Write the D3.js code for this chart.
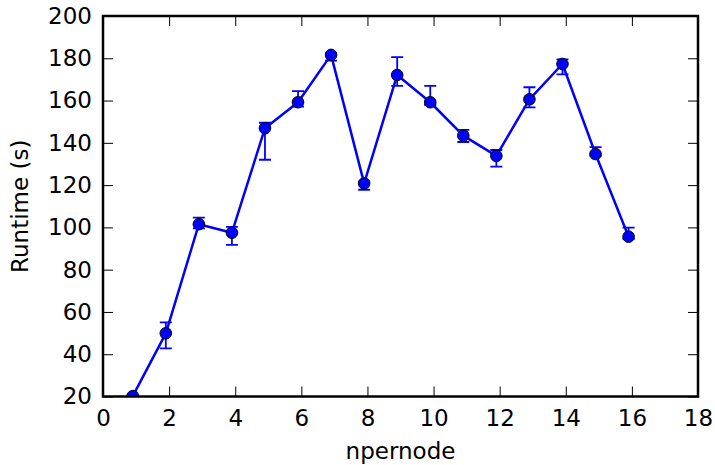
<!DOCTYPE html>
<html>
<head>
<meta charset="utf-8">
<style>
  body { margin: 0; background: #fff; }
  text { font-family: "DejaVu Sans", sans-serif; }
</style>
<title>Runtime vs npernode</title>
</head>
<body>
<script src="https://cdn.jsdelivr.net/npm/d3@7/dist/d3.min.js"></script>
<script>
// data
var npernode = [0.9, 1.9, 2.9, 3.9, 4.9, 5.9, 6.9, 7.9, 8.9, 9.9, 10.9, 11.9, 12.9, 13.9, 14.9, 15.9];
var runtime  = [20.2, 49.9, 101.5, 97.5, 146.9, 159.2, 181.6, 120.8, 172.1, 159.2, 143.4, 133.8, 160.6, 177.3, 134.7, 95.6];
var errHigh  = [20.6, 55.1, 104.6, 100.2, 149.5, 164.5, 182.4, 121.6, 180.5, 166.9, 146.1, 136.6, 166.3, 179.5, 138.0, 99.9];
var errLow   = [19.8, 42.8, 99.5, 91.7, 132.0, 157.1, 178.9, 117.8, 166.9, 157.9, 140.4, 128.7, 156.8, 172.4, 133.8, 94.5];
var xTicks = [0, 2, 4, 6, 8, 10, 12, 14, 16, 18];
var yTicks = [20, 40, 60, 80, 100, 120, 140, 160, 180, 200];

var data = npernode.map(function(d, i) {
  return {x: d, y: runtime[i], hi: errHigh[i], lo: errLow[i]};
});

// dimensions
var margin = {top: 16, right: 17, bottom: 68.5, left: 103};
var width = 715 - margin.left - margin.right;
var height = 465 - margin.top - margin.bottom;

var x = d3.scaleLinear().domain([0, 18]).range([0, width]);
var y = d3.scaleLinear().domain([20, 200]).range([height, 0]);

var svg = d3.select("body").append("svg")
  .attr("width", 715)
  .attr("height", 465)
  .append("g")
  .attr("transform", "translate(" + margin.left + "," + margin.top + ")");

svg.append("clipPath").attr("id", "clip")
  .append("rect").attr("width", width).attr("height", height);

var fs = "23px";
var tickLen = 10;

// ticks inside the box, on all four sides
var axB = svg.append("g").attr("transform", "translate(0," + height + ")")
  .call(d3.axisBottom(x).tickValues(xTicks).tickSizeInner(-tickLen).tickSizeOuter(0).tickPadding(10));
var axT = svg.append("g")
  .call(d3.axisTop(x).tickValues(xTicks).tickSizeInner(-tickLen).tickSizeOuter(0).tickFormat(""));
var axL = svg.append("g")
  .call(d3.axisLeft(y).tickValues(yTicks).tickSizeInner(-tickLen).tickSizeOuter(0).tickPadding(11));
var axR = svg.append("g").attr("transform", "translate(" + width + ",0)")
  .call(d3.axisRight(y).tickValues(yTicks).tickSizeInner(-tickLen).tickSizeOuter(0).tickFormat(""));

[axB, axT, axL, axR].forEach(function(a) {
  a.select(".domain").remove();
  a.selectAll("line").attr("stroke", "#000").attr("stroke-width", 1);
  a.selectAll("text").attr("fill", "#000").style("font-size", fs)
    .style("font-family", "DejaVu Sans, sans-serif");
});
axB.selectAll("text").attr("dy", "0.85em");

// plot area
var plot = svg.append("g").attr("clip-path", "url(#clip)");

// error bars
var eb = plot.append("g").attr("stroke", "#0000ff").attr("stroke-width", 1.8);
eb.selectAll(".ev").data(data).enter().append("line")
  .attr("x1", function(d) { return x(d.x); })
  .attr("x2", function(d) { return x(d.x); })
  .attr("y1", function(d) { return y(d.lo); })
  .attr("y2", function(d) { return y(d.hi); });
eb.selectAll(".capHi").data(data).enter().append("line")
  .attr("x1", function(d) { return x(d.x) - 6; })
  .attr("x2", function(d) { return x(d.x) + 6; })
  .attr("y1", function(d) { return y(d.hi); })
  .attr("y2", function(d) { return y(d.hi); });
eb.selectAll(".capLo").data(data).enter().append("line")
  .attr("x1", function(d) { return x(d.x) - 6; })
  .attr("x2", function(d) { return x(d.x) + 6; })
  .attr("y1", function(d) { return y(d.lo); })
  .attr("y2", function(d) { return y(d.lo); });

// line
plot.append("path").datum(data)
  .attr("fill", "none")
  .attr("stroke", "#0000ff")
  .attr("stroke-width", 2.5)
  .attr("stroke-linejoin", "round")
  .attr("d", d3.line().x(function(d) { return x(d.x); }).y(function(d) { return y(d.y); }));

// markers
plot.selectAll("circle").data(data).enter().append("circle")
  .attr("cx", function(d) { return x(d.x); })
  .attr("cy", function(d) { return y(d.y); })
  .attr("r", 5.8)
  .attr("fill", "#0000ff")
  .attr("stroke", "#000")
  .attr("stroke-width", 1);

// frame
svg.append("rect")
  .attr("width", width).attr("height", height)
  .attr("fill", "none").attr("stroke", "#000").attr("stroke-width", 2.5);

// labels
svg.append("text")
  .attr("x", width / 2).attr("y", height + 62)
  .attr("text-anchor", "middle")
  .style("font-size", fs)
  .text("npernode");

svg.append("text")
  .attr("transform", "rotate(-90)")
  .attr("x", -height / 2).attr("y", -margin.left + 28)
  .attr("text-anchor", "middle")
  .style("font-size", fs)
  .text("Runtime (s)");
</script>
</body>
</html>
